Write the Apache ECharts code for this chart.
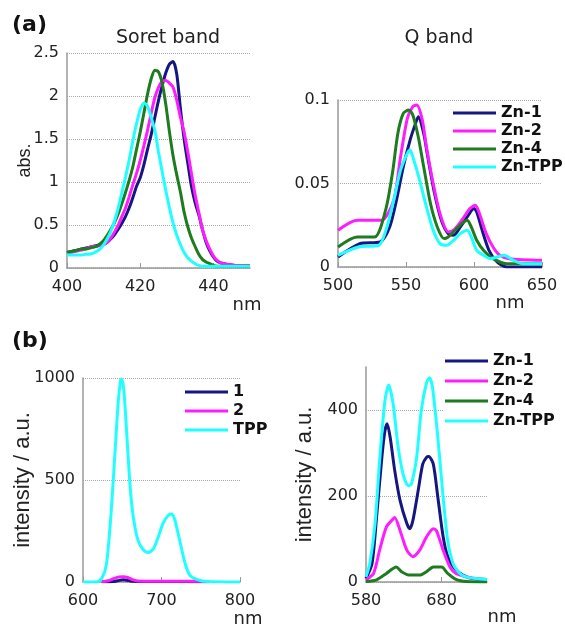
<!DOCTYPE html>
<html>
<head>
<meta charset="utf-8">
<script src="https://cdn.jsdelivr.net/npm/echarts@6/dist/echarts.min.js"></script>
<style>
html,body{margin:0;padding:0;background:#fff;}
#chart{width:565px;height:627px;}
</style>
</head>
<body>
<div id="chart"></div>
<script>
// ---------- data ----------
const seriesNames = ['Zn-1', 'Zn-2', 'Zn-4', 'Zn-TPP'];
const freeNames = ['1', '2', 'TPP'];

// (a) Soret band, absorbance vs nm (400..450, 1 nm step)
const soretNm = [400,401,402,403,404,405,406,407,408,409,410,411,412,413,414,415,416,417,418,419,420,421,422,423,424,425,426,427,428,429,430,431,432,433,434,435,436,437,438,439,440,441,442,443,444,445,446,447,448,449,450];
const zn1Soret = [.18,.19,.20,.21,.22,.23,.24,.25,.26,.27,.28,.30,.34,.39,.45,.52,.60,.70,.82,.95,1.05,1.20,1.38,1.55,1.75,1.95,2.12,2.27,2.37,2.40,2.25,1.85,1.50,1.22,.95,.76,.62,.45,.30,.20,.13,.08,.06,.05,.04,.03,.03,.02,.02,.02,.02];
const zn2Soret = [.17,.18,.19,.20,.21,.22,.24,.25,.25,.26,.27,.30,.35,.42,.50,.60,.70,.83,.97,1.10,1.25,1.42,1.60,1.80,1.98,2.10,2.17,2.18,2.15,2.10,1.95,1.75,1.58,1.35,1.10,.85,.65,.45,.32,.22,.14,.09,.06,.05,.04,.04,.03,.03,.03,.03,.03];
const zn4Soret = [.18,.19,.20,.21,.22,.22,.23,.24,.25,.28,.32,.38,.45,.53,.63,.75,.88,1.02,1.18,1.38,1.58,1.80,2.02,2.20,2.30,2.28,2.15,1.90,1.58,1.30,1.08,.88,.65,.48,.35,.25,.16,.10,.07,.05,.03,.02,.02,.02,.02,.02,.02,.02,.02,.02,.02];
const znTppSoret = [.15,.15,.15,.15,.15,.16,.16,.17,.19,.22,.27,.34,.43,.55,.70,.88,1.06,1.26,1.48,1.68,1.84,1.92,1.88,1.75,1.60,1.35,1.12,.90,.70,.52,.38,.27,.18,.12,.08,.05,.03,.02,.02,.02,.02,.02,.02,.02,.02,.02,.02,.02,.02,.02,.02];

// (a) Q band
const zn1QNm = [500,516,531,538,543,548,553,557,559,563,566,571,576,581,585,590,595,600,602,606,611,617,624,650];
const zn1Q   = [.006,.014,.015,.024,.040,.060,.076,.086,.090,.080,.066,.044,.028,.020,.019,.024,.030,.035,.033,.022,.010,.003,0,0];
const zn2QNm = [500,514,532,541,546,551,555,558,562,565,570,575,581,585,591,597,601,604,609,614,619,626,650];
const zn2Q   = [.022,.028,.028,.040,.066,.089,.096,.097,.088,.072,.050,.032,.021,.022,.028,.035,.037,.032,.020,.012,.007,.005,.004];
const zn4QNm = [500,514,527,535,540,544,548,552,555,559,563,568,573,578,581,586,591,595,598,602,607,614,624,650];
const zn4Q   = [.012,.018,.018,.034,.056,.080,.092,.094,.091,.078,.060,.038,.024,.017,.018,.022,.026,.028,.024,.016,.010,.005,.002,.002];
const znTppQNm = [500,515,530,536,541,546,551,553,555,560,565,570,575,580,585,590,595,598,602,607,612,617,622,629,636,650];
const znTppQ   = [.007,.012,.013,.024,.040,.058,.068,.070,.066,.052,.036,.022,.014,.013,.016,.020,.022,.018,.010,.007,.005,.006,.007,.004,.002,.002];

// (b) emission of free bases
const one3Nm = [624,640,646,651,656,662,680,720,760];
const one3   = [1,3,8,11,9,4,2,2,1];
const two3Nm = [624,632,640,646,651,657,663,670,690,720,760];
const two3   = [2,6,18,25,26,22,12,5,4,4,3];
const tpp3Nm = [600,617,624,630,636,641,645,648,649,652,656,660,664,670,677,683,690,696,702,709,713,717,724,730,736,745,758,800];
const tpp3   = [0,0,18,90,350,650,890,990,995,940,710,470,320,205,157,144,165,222,288,328,333,304,190,92,34,13,2,0];

// (b) emission of Zn complexes
const zn1EmNm = [580,588,594,601,605,608,612,618,625,634,638,642,649,655,660,663,669,675,682,688,697,708,721,740];
const zn1Em   = [8,43,151,290,351,368,336,259,190,136,124,143,213,274,290,292,274,197,105,59,32,16,8,5];
const zn2EmNm = [580,590,598,607,616,618,625,634,642,651,660,669,673,682,691,699,713,726,740];
const zn2Em   = [5,20,74,128,147,150,120,74,59,74,105,124,120,74,35,20,12,8,6];
const zn4EmNm = [580,594,607,620,627,638,651,660,669,680,688,699,713,740];
const zn4Em   = [1,5,20,35,24,16,16,24,35,35,20,6,1,0];
const znTppEmNm = [580,585,592,598,605,610,616,622,629,636,640,647,653,660,664,668,675,682,688,695,704,712,726,740];
const znTppEm   = [12,43,136,282,421,458,413,320,251,224,228,290,398,463,475,452,336,197,97,43,20,12,8,6];

// ---------- styling ----------
const FONT = 'DejaVu Sans';
const COLORS = ['#161683', '#ff1cff', '#1d7c1d', '#20ffff'];
const AXIS_COLOR = '#999';
const GRID_COLOR = '#aaa';
const plain = v => String(v);

function pairs(xs, ys) { return xs.map((x, i) => [x, ys[i]]); }

function xAxis(idx, min, max, interval, showMax, nameGap, namePad) {
  return {
    type: 'value', gridIndex: idx, min: min, max: max, interval: interval,
    axisLine: { show: true, lineStyle: { color: AXIS_COLOR, width: 1.5 } },
    axisTick: { show: true, inside: true, length: 5, lineStyle: { color: AXIS_COLOR } },
    axisLabel: { color: '#222', fontSize: 16, fontFamily: FONT, margin: 11, showMaxLabel: showMax, showMinLabel: true, formatter: plain },
    splitLine: { show: false },
    name: 'nm', nameLocation: 'end', nameGap: nameGap, nameMoveOverlap: false,
    nameTextStyle: { color: '#222', fontSize: 18, fontFamily: FONT, align: 'center', verticalAlign: 'top', padding: [namePad, 0, 0, 0] }
  };
}
function yAxis(idx, max, interval, name, nameSize, nameGap, showMax, splitColor) {
  return {
    type: 'value', gridIndex: idx, min: 0, max: max, interval: interval,
    axisLine: { show: true, lineStyle: { color: AXIS_COLOR, width: 1.5 } },
    axisTick: { show: false },
    axisLabel: { color: '#222', fontSize: 16, fontFamily: FONT, margin: 8, showMaxLabel: showMax, formatter: plain },
    splitLine: { show: true, lineStyle: { color: splitColor, type: 'dotted', width: 1 } },
    name: name, nameLocation: 'middle', nameGap: nameGap, nameRotate: 90, nameMoveOverlap: false,
    nameTextStyle: { color: '#222', fontSize: nameSize, fontFamily: 'Liberation Sans' }
  };
}
function line(name, color, idx, data) {
  return {
    type: 'line', name: name, xAxisIndex: idx, yAxisIndex: idx, data: data,
    showSymbol: false, symbol: 'none', smooth: 0.25, z: 2,
    lineStyle: { color: color, width: 3 }, itemStyle: { color: color },
    emphasis: { disabled: true }
  };
}
function legend(left, top, gap, padLeft, names) {
  return {
    orient: 'vertical', left: left, top: top, padding: [2, 0, 2, padLeft],
    backgroundColor: '#fff', itemWidth: 43, itemHeight: 3, itemGap: gap,
    icon: 'rect', selectedMode: false, data: names,
    textStyle: { fontFamily: FONT, fontWeight: 'bold', fontSize: 16, lineHeight: 16, color: '#111' }
  };
}

const option = {
  animation: false,
  backgroundColor: '#fff',
  title: [
    { text: '(a)', left: 12, top: 14, padding: 0, textStyle: { fontFamily: FONT, fontWeight: 'bold', fontSize: 22, color: '#111' } },
    { text: '(b)', left: 12, top: 330, padding: 0, textStyle: { fontFamily: FONT, fontWeight: 'bold', fontSize: 22, color: '#111' } },
    { text: 'Soret band', left: 168, top: 29, padding: 0, textAlign: 'center', textStyle: { fontFamily: FONT, fontWeight: 'normal', fontSize: 19, color: '#222' } },
    { text: 'Q band', left: 439, top: 29, padding: 0, textAlign: 'center', textStyle: { fontFamily: FONT, fontWeight: 'normal', fontSize: 19, color: '#222' } }
  ],
  grid: [
    { left: 67, top: 53, width: 183, height: 215, outerBoundsMode: 'none' },
    { left: 338, top: 100, width: 204, height: 167, outerBoundsMode: 'none' },
    { left: 83, top: 378, width: 157, height: 204, outerBoundsMode: 'none' },
    { left: 366, top: 367, width: 121, height: 215, outerBoundsMode: 'none' }
  ],
  xAxis: [
    xAxis(0, 400, 450, 20, false, -3, 28),
    xAxis(1, 500, 650, 50, true, -32, 27),
    xAxis(2, 600, 800, 100, true, 8, 28),
    xAxis(3, 580, 740, 100, false, 15, 26)
  ],
  yAxis: [
    yAxis(0, 2.5, 0.5, 'abs.', 18, 33, true, GRID_COLOR),
    yAxis(1, 0.1, 0.05, '', 16, 30, true, GRID_COLOR),
    yAxis(2, 1000, 500, 'intensity / a.u.', 22, 49, true, GRID_COLOR),
    yAxis(3, 500, 200, 'intensity / a.u.', 22, 50, false, [GRID_COLOR, GRID_COLOR, GRID_COLOR, 'rgba(0,0,0,0)'])
  ],
  legend: [
    legend(445, 103, 2, 8, seriesNames),
    legend(173, 382, 3, 12, freeNames),
    legend(443, 351, 4, 2, seriesNames)
  ],
  series: [
    line('Zn-1', COLORS[0], 0, pairs(soretNm, zn1Soret)),
    line('Zn-2', COLORS[1], 0, pairs(soretNm, zn2Soret)),
    line('Zn-4', COLORS[2], 0, pairs(soretNm, zn4Soret)),
    line('Zn-TPP', COLORS[3], 0, pairs(soretNm, znTppSoret)),

    line('Zn-1', COLORS[0], 1, pairs(zn1QNm, zn1Q)),
    line('Zn-2', COLORS[1], 1, pairs(zn2QNm, zn2Q)),
    line('Zn-4', COLORS[2], 1, pairs(zn4QNm, zn4Q)),
    line('Zn-TPP', COLORS[3], 1, pairs(znTppQNm, znTppQ)),

    line('1', COLORS[0], 2, pairs(one3Nm, one3)),
    line('2', COLORS[1], 2, pairs(two3Nm, two3)),
    line('TPP', COLORS[3], 2, pairs(tpp3Nm, tpp3)),

    line('Zn-1', COLORS[0], 3, pairs(zn1EmNm, zn1Em)),
    line('Zn-2', COLORS[1], 3, pairs(zn2EmNm, zn2Em)),
    line('Zn-4', COLORS[2], 3, pairs(zn4EmNm, zn4Em)),
    line('Zn-TPP', COLORS[3], 3, pairs(znTppEmNm, znTppEm))
  ]
};

const chart = echarts.init(document.getElementById('chart'), null, { renderer: 'canvas' });
chart.setOption(option);
</script>
</body>
</html>
